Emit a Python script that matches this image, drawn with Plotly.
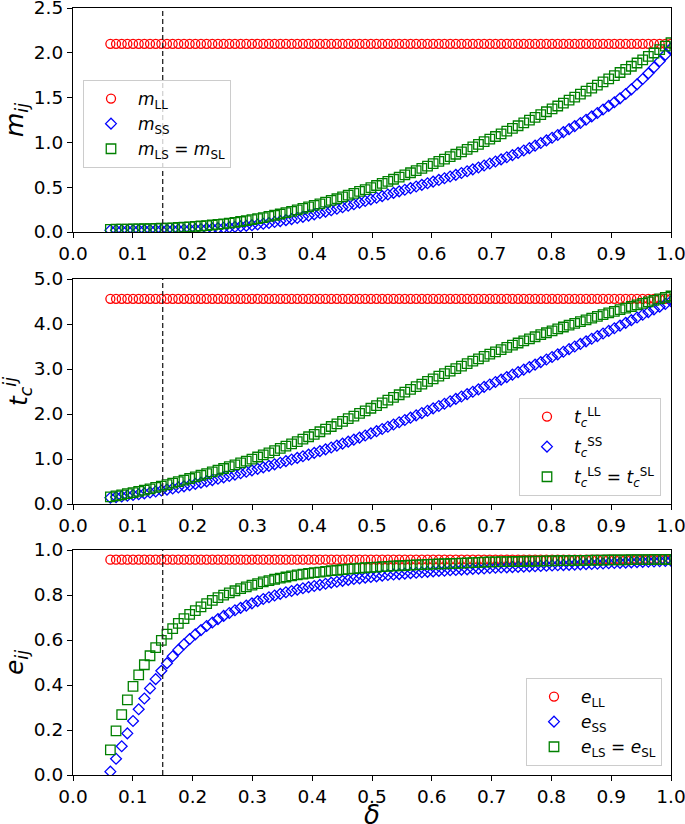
import numpy as np
import plotly.graph_objects as go

# ---------------- data ----------------
delta = np.linspace(0.0625, 1.0, 100)
delta_c = 0.15

m_LL_level = 2.10
t_LL_level = 4.56
e_LL_level = 0.957

m_SS = [0.020,0.020,0.020,0.020,0.020,0.021,0.021,0.022,0.022,0.023,
        0.024,0.025,0.026,0.028,0.030,0.032,0.034,0.037,0.040,0.043,
        0.047,0.052,0.057,0.063,0.069,0.076,0.084,0.092,0.101,0.111,
        0.121,0.132,0.144,0.156,0.169,0.183,0.197,0.212,0.227,0.243,
        0.259,0.276,0.293,0.310,0.328,0.346,0.364,0.382,0.400,0.418,
        0.436,0.454,0.472,0.490,0.508,0.526,0.544,0.562,0.581,0.600,
        0.619,0.638,0.658,0.678,0.699,0.720,0.742,0.764,0.787,0.810,
        0.834,0.858,0.883,0.909,0.936,0.964,0.993,1.022,1.052,1.083,
        1.115,1.148,1.182,1.217,1.253,1.290,1.328,1.367,1.407,1.448,
        1.492,1.540,1.592,1.648,1.708,1.771,1.837,1.906,1.977,2.050]

m_LS = [0.030,0.031,0.032,0.033,0.034,0.035,0.036,0.038,0.040,0.042,
        0.044,0.047,0.050,0.054,0.058,0.062,0.067,0.072,0.078,0.084,
        0.091,0.099,0.108,0.117,0.127,0.138,0.149,0.161,0.174,0.187,
        0.201,0.216,0.231,0.247,0.263,0.280,0.297,0.315,0.333,0.352,
        0.371,0.391,0.411,0.432,0.453,0.474,0.496,0.519,0.542,0.565,
        0.589,0.613,0.637,0.661,0.686,0.711,0.736,0.762,0.788,0.814,
        0.841,0.868,0.895,0.923,0.951,0.979,1.008,1.037,1.066,1.096,
        1.126,1.156,1.186,1.217,1.248,1.279,1.310,1.342,1.374,1.406,
        1.439,1.472,1.505,1.538,1.572,1.606,1.640,1.675,1.710,1.745,
        1.780,1.815,1.850,1.886,1.922,1.960,1.998,2.036,2.074,2.112]

t_SS = [0.140,0.154,0.168,0.183,0.199,0.217,0.236,0.256,0.277,0.299,
        0.321,0.344,0.368,0.393,0.419,0.446,0.474,0.503,0.532,0.562,
        0.592,0.622,0.653,0.684,0.716,0.748,0.781,0.814,0.848,0.882,
        0.917,0.952,0.988,1.024,1.061,1.098,1.136,1.175,1.215,1.256,
        1.298,1.341,1.385,1.430,1.476,1.523,1.570,1.618,1.667,1.716,
        1.766,1.816,1.867,1.918,1.969,2.021,2.073,2.125,2.177,2.229,
        2.282,2.335,2.388,2.441,2.494,2.548,2.602,2.656,2.710,2.765,
        2.820,2.875,2.930,2.986,3.042,3.098,3.154,3.210,3.267,3.325,
        3.383,3.441,3.499,3.557,3.615,3.673,3.731,3.789,3.847,3.905,
        3.965,4.025,4.085,4.145,4.205,4.265,4.325,4.385,4.445,4.505]

t_LS = [0.160,0.182,0.205,0.229,0.254,0.281,0.309,0.338,0.368,0.399,
        0.431,0.464,0.498,0.532,0.567,0.603,0.639,0.676,0.713,0.751,
        0.789,0.829,0.870,0.912,0.955,0.999,1.044,1.090,1.137,1.185,
        1.234,1.284,1.335,1.387,1.440,1.494,1.549,1.606,1.664,1.722,
        1.780,1.838,1.896,1.954,2.012,2.070,2.128,2.188,2.248,2.308,
        2.368,2.428,2.488,2.548,2.607,2.666,2.724,2.782,2.840,2.897,
        2.953,3.009,3.064,3.119,3.173,3.226,3.279,3.331,3.382,3.432,
        3.481,3.530,3.578,3.625,3.671,3.717,3.762,3.806,3.849,3.891,
        3.933,3.974,4.014,4.054,4.093,4.132,4.170,4.208,4.245,4.282,
        4.318,4.354,4.389,4.424,4.458,4.492,4.525,4.558,4.590,4.622]

e_SS = [0.015,0.072,0.128,0.185,0.240,0.292,0.340,0.385,0.426,0.463,
        0.497,0.528,0.556,0.581,0.604,0.625,0.644,0.662,0.678,0.693,
        0.707,0.720,0.732,0.743,0.753,0.763,0.773,0.782,0.790,0.798,
        0.805,0.812,0.818,0.824,0.830,0.835,0.840,0.845,0.850,0.855,
        0.859,0.863,0.867,0.871,0.874,0.877,0.880,0.883,0.886,0.889,
        0.891,0.893,0.895,0.897,0.899,0.901,0.903,0.905,0.907,0.908,
        0.910,0.911,0.913,0.914,0.916,0.917,0.918,0.920,0.921,0.922,
        0.923,0.924,0.925,0.926,0.927,0.928,0.929,0.930,0.931,0.932,
        0.933,0.934,0.935,0.936,0.937,0.938,0.939,0.940,0.941,0.942,
        0.943,0.944,0.945,0.946,0.947,0.948,0.949,0.950,0.951,0.952]

e_LS = [0.112,0.196,0.268,0.334,0.394,0.445,0.490,0.530,0.566,0.598,
        0.626,0.651,0.674,0.695,0.714,0.731,0.747,0.762,0.776,0.788,
        0.799,0.809,0.819,0.828,0.836,0.844,0.851,0.858,0.864,0.870,
        0.875,0.880,0.885,0.889,0.893,0.896,0.899,0.902,0.905,0.908,
        0.910,0.913,0.915,0.917,0.919,0.921,0.923,0.924,0.926,0.927,
        0.929,0.930,0.931,0.933,0.934,0.935,0.936,0.937,0.938,0.939,
        0.940,0.941,0.942,0.943,0.944,0.945,0.946,0.947,0.947,0.948,
        0.948,0.949,0.949,0.950,0.950,0.951,0.951,0.952,0.952,0.953,
        0.953,0.953,0.954,0.954,0.954,0.955,0.955,0.955,0.956,0.956,
        0.956,0.956,0.957,0.957,0.957,0.957,0.958,0.958,0.958,0.958]

m_LL = [m_LL_level] * len(delta)
t_LL = [t_LL_level] * len(delta)
e_LL = [e_LL_level] * len(delta)

x_ticks = [0.0, 0.1, 0.2, 0.3, 0.4, 0.5, 0.6, 0.7, 0.8, 0.9, 1.0]
x_title = "<i>δ</i>"

panels = [
    dict(series=[(m_LL, "<i>m</i><sub>LL</sub>"),
                 (m_SS, "<i>m</i><sub>SS</sub>"),
                 (m_LS, "<i>m</i><sub>LS</sub> = <i>m</i><sub>SL</sub>")],
         ytitle="<i>m</i><sub><i>ij</i></sub>", yrange=[0, 2.5], dtick=0.5),
    dict(series=[(t_LL, "<i>t</i><sub><i>c</i></sub><sup>LL</sup>"),
                 (t_SS, "<i>t</i><sub><i>c</i></sub><sup>SS</sup>"),
                 (t_LS, "<i>t</i><sub><i>c</i></sub><sup>LS</sup> = <i>t</i><sub><i>c</i></sub><sup>SL</sup>")],
         ytitle="<i>t</i><sub><i>c</i></sub><sup><i>ij</i></sup>", yrange=[0, 5.0], dtick=1.0),
    dict(series=[(e_LL, "<i>e</i><sub>LL</sub>"),
                 (e_SS, "<i>e</i><sub>SS</sub>"),
                 (e_LS, "<i>e</i><sub>LS</sub> = <i>e</i><sub>SL</sub>")],
         ytitle="<i>e</i><sub><i>ij</i></sub>", yrange=[0, 1.0], dtick=0.2),
]

# ---------------- styling ----------------
FONT = "DejaVu Sans"
colors = ["#ff0000", "#0000ff", "#008000"]
symbols = ["circle-open", "diamond-open", "square-open"]
sizes = [9, 8.3, 9.5]

W, H = 685, 824
mt, mb, ml, mr = 8, 49, 73, 14
ph = H - mt - mb
pw = W - ml - mr

def ydom(top_px, bot_px):
    return [(H - mb - bot_px) / ph, (H - mb - top_px) / ph]

def ypaper(px):
    return (H - mb - px) / ph

domains = [ydom(8, 232), ydom(279, 504), ydom(550, 775)]

legend_pos = [
    dict(x=(83 - ml) / pw, y=ypaper(80), xanchor="left", yanchor="top"),
    dict(x=(661 - ml) / pw, y=ypaper(496), xanchor="right", yanchor="bottom"),
    dict(x=(662 - ml) / pw, y=ypaper(766), xanchor="right", yanchor="bottom"),
]
legend_gaps = [0, 5, 0]

fig = go.Figure()
layout = {}
shapes = []
for i, p in enumerate(panels):
    n = "" if i == 0 else str(i + 1)
    leg = "legend" if i == 0 else f"legend{i + 1}"
    for j, (yv, name) in enumerate(p["series"]):
        fig.add_trace(go.Scatter(
            x=delta, y=yv, mode="markers", name=name,
            xaxis="x" + n, yaxis="y" + n, legend=leg,
            legendgroup=f"g{i}{j}",
            marker=dict(symbol=symbols[j], size=sizes[j], color=colors[j],
                        line=dict(width=1.3, color=colors[j])),
        ))
    axis_common = dict(showline=True, linecolor="black", linewidth=1.2, mirror=True,
                       ticks="outside", ticklen=5, tickwidth=1.2, tickcolor="black",
                       showgrid=False, zeroline=False, automargin=False,
                       ticklabeloverflow="allow",
                       tickfont=dict(family=FONT, size=18.5, color="black"))
    layout["xaxis" + n] = dict(axis_common, domain=[0, 1], range=[0, 1],
                               tickvals=x_ticks, tickformat=".1f",
                               anchor="y" + n)
    layout["yaxis" + n] = dict(axis_common, domain=domains[i], range=p["yrange"],
                               dtick=p["dtick"], tickformat=".1f", anchor="x" + n,
                               title=dict(text=p["ytitle"], standoff=6,
                                          font=dict(family=FONT, size=25, color="black")))
    layout[leg] = dict(legend_pos[i], bgcolor="rgba(255,255,255,0.8)",
                       bordercolor="#cccccc", borderwidth=1,
                       font=dict(family=FONT, size=17, color="black"),
                       itemwidth=44, tracegroupgap=legend_gaps[i])
    shapes.append(dict(type="line", xref="x" + n, yref=f"y{n} domain",
                       x0=delta_c, x1=delta_c, y0=0, y1=1,
                       line=dict(color="#222222", width=1.3, dash="5px,3px"),
                       layer="above"))

fig.update_layout(**layout)
fig.update_layout(
    width=W, height=H, shapes=shapes,
    margin=dict(l=ml, r=mr, t=mt, b=mb, pad=0, autoexpand=False),
    paper_bgcolor="white", plot_bgcolor="white",
    font=dict(family=FONT, color="black"),
    showlegend=True,
    annotations=[dict(text=x_title, xref="paper", yref="paper",
                      x=0.5, y=ypaper(799), xanchor="center", yanchor="top",
                      showarrow=False, borderpad=0,
                      font=dict(family=FONT, size=26, color="black"))],
)

fig.write_html("out.html", config={"displayModeBar": False},
               post_script="document.body.style.margin='0px';")
